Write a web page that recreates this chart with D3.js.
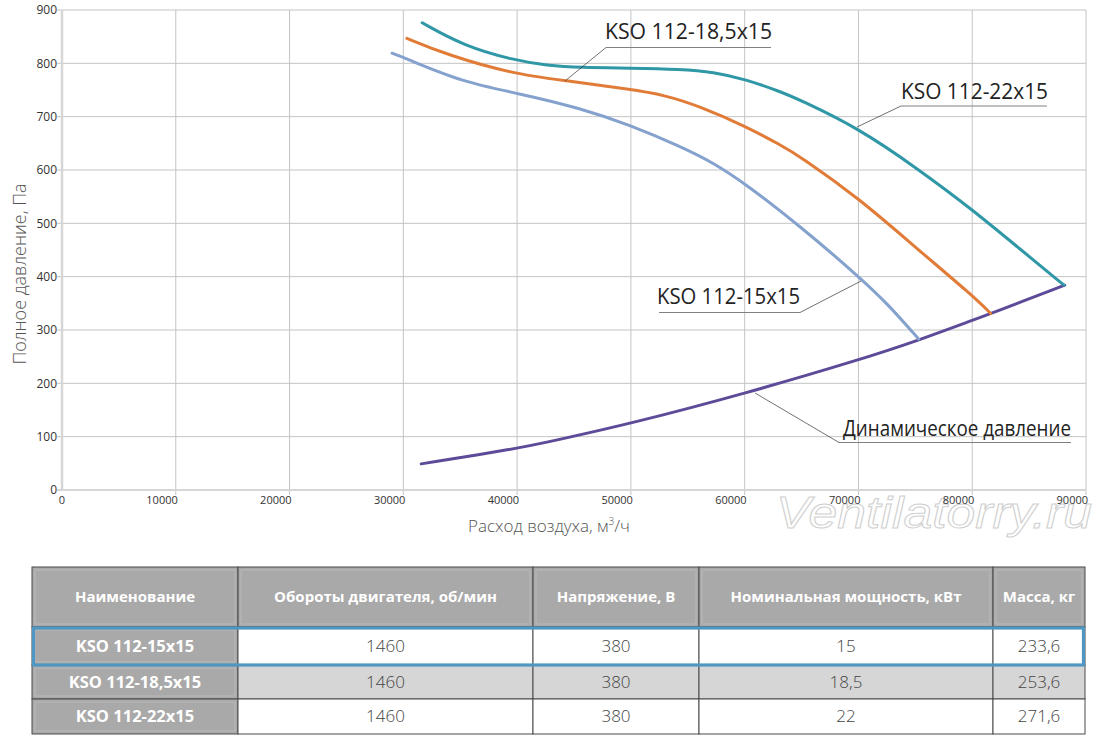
<!DOCTYPE html>
<html>
<head>
<meta charset="utf-8">
<script src="https://cdn.jsdelivr.net/npm/d3@7"></script>
<style>
  body { margin: 0; background: #fff; }
  svg { display: block; }
</style>
</head>
<body>
<svg id="chart" width="1100" height="741"></svg>
<script>
// curves: air flow (m3/h) and total pressure (Pa)
const flow22  = [31660, 35270, 39700, 42630, 45560, 49960, 54350, 57260, 60070, 63150, 64910, 70040, 75170, 80060, 83960, 88070];
const press22 = [876, 833, 806, 796, 792, 791, 789, 784, 770, 747, 731, 678, 603, 525, 456, 384];

const flow185  = [30310, 33830, 39690, 44090, 49960, 52890, 56110, 60070, 63150, 64910, 70040, 75170, 80060, 81620];
const press185 = [847, 816, 780, 768, 751, 741, 719, 682, 647, 625, 547, 452, 364, 331];

const flow15  = [29000, 30020, 35300, 40080, 45560, 49960, 54350, 57290, 60070, 64910, 70040, 72530, 75290];
const press15 = [819, 811, 764, 744, 716, 684, 644, 613, 574, 494, 400, 350, 283];

const flowDyn  = [31570, 40060, 42920, 50080, 60040, 70080, 75320, 80110, 81650, 88130];
const pressDyn = [49, 78, 91, 125, 181, 244, 281, 319, 331, 384];

const xTicks = [0, 10000, 20000, 30000, 40000, 50000, 60000, 70000, 80000, 90000];
const yTicks = [0, 100, 200, 300, 400, 500, 600, 700, 800, 900];

const headers = ["Наименование", "Обороты двигателя, об/мин", "Напряжение, В", "Номинальная мощность, кВт", "Масса, кг"];
const models  = ["KSO 112-15x15", "KSO 112-18,5x15", "KSO 112-22x15"];
const rpm     = ["1460", "1460", "1460"];
const volts   = ["380", "380", "380"];
const power   = ["15", "18,5", "22"];
const mass    = ["233,6", "253,6", "271,6"];

const svg = d3.select("#chart");
const x = d3.scaleLinear().domain([0, 90000]).range([62, 1086]);
const y = d3.scaleLinear().domain([0, 900]).range([490, 10]);

// grid
svg.append("g").selectAll("line").data(xTicks.slice(1)).join("line")
  .attr("x1", d => x(d)).attr("x2", d => x(d))
  .attr("y1", y(900)).attr("y2", y(0) + 5)
  .attr("stroke", "#c4c4c4").attr("stroke-width", 1);
svg.append("g").selectAll("line").data(yTicks.slice(1)).join("line")
  .attr("x1", x(0) - 5).attr("x2", x(90000))
  .attr("y1", d => y(d)).attr("y2", d => y(d))
  .attr("stroke", "#c4c4c4").attr("stroke-width", 1);

// axes lines
svg.append("line").attr("x1", x(0)).attr("x2", x(0)).attr("y1", y(900)).attr("y2", y(0))
  .attr("stroke", "#d6d6d6").attr("stroke-width", 2.5);
svg.append("line").attr("x1", x(0) - 5).attr("x2", x(90000)).attr("y1", y(0)).attr("y2", y(0))
  .attr("stroke", "#d6d6d6").attr("stroke-width", 2);

// watermark (sits under the tick labels, as in the original)
svg.append("text").attr("x", 776).attr("y", 528)
  .attr("textLength", 316).attr("lengthAdjust", "spacingAndGlyphs")
  .style("font", "italic 44px 'Liberation Sans'")
  .attr("fill", "#fff").attr("fill-opacity", 0.5)
  .attr("stroke", "#cfcfcf").attr("stroke-width", 1)
  .text("Ventilatorry.ru");

// tick labels
svg.append("g").selectAll("text").data(yTicks).join("text")
  .attr("x", 57).attr("y", d => y(d)).attr("dy", "0.35em")
  .attr("text-anchor", "end")
  .style("font", "12px 'Open Sans'").attr("fill", "#333")
  .text(d => d);
svg.append("g").selectAll("text").data(xTicks).join("text")
  .attr("x", d => d === 0 ? x(d) + 3 : x(d) + 2).attr("y", 500).attr("dy", "0.35em")
  .attr("text-anchor", "end")
  .style("font", "11px 'Open Sans'").attr("fill", "#333")
  .text(d => d);

// axis titles
const xt = svg.append("text").attr("x", 549).attr("y", 532).attr("text-anchor", "middle")
  .style("font", "300 17px 'Open Sans'").attr("fill", "#555");
xt.append("tspan").text("Расход воздуха, м");
xt.append("tspan").attr("dy", -7).style("font-size", "10px").text("3");
xt.append("tspan").attr("dy", 7).text("/ч");
svg.append("text").attr("transform", "translate(26,274) rotate(-90)")
  .attr("text-anchor", "middle")
  .style("font", "300 18px 'Open Sans'").attr("fill", "#555")
  .text("Полное давление, Па");

// curves
const line = d3.line().x(d => x(d[0])).y(d => y(d[1])).curve(d3.curveBasis);
const series = [
  [d3.zip(flowDyn, pressDyn), "#5d4b99"],
  [d3.zip(flow15, press15), "#84a2cd"],
  [d3.zip(flow185, press185), "#e17c38"],
  [d3.zip(flow22, press22), "#2f97a6"]
];
series.forEach(([pts, color]) => {
  svg.append("path").datum(pts).attr("d", line)
    .attr("fill", "none").attr("stroke", color).attr("stroke-width", 3)
    .attr("stroke-linecap", "round");
});

// labels with leader lines (lx = where the leader leaves the underline)
const labels = [
  { text: "KSO 112-18,5x15", tx: 605, ty: 39, w: 167, ux1: 606, ux2: 771, uy: 47.5, lx: 606, px: 565, py: 81 },
  { text: "KSO 112-22x15", tx: 901, ty: 99, w: 147, ux1: 901, ux2: 1047, uy: 106, lx: 901, px: 857, py: 127 },
  { text: "KSO 112-15x15", tx: 657, ty: 304, w: 143, ux1: 659, ux2: 800, uy: 312.5, lx: 800, px: 861, py: 281 },
  { text: "Динамическое давление", tx: 843, ty: 436, w: 228, ux1: 839, ux2: 1071, uy: 442.5, lx: 839, px: 755, py: 393 }
];
labels.forEach(l => {
  svg.append("line").attr("x1", l.ux1).attr("x2", l.ux2).attr("y1", l.uy).attr("y2", l.uy)
    .attr("stroke", "#808080").attr("stroke-width", 1);
  svg.append("line").attr("x1", l.lx).attr("y1", l.uy).attr("x2", l.px).attr("y2", l.py)
    .attr("stroke", "#333").attr("stroke-width", 0.7);
  svg.append("text").attr("x", l.tx).attr("y", l.ty)
    .attr("textLength", l.w).attr("lengthAdjust", "spacingAndGlyphs")
    .style("font", "21px 'Open Sans'").attr("fill", "#222")
    .text(l.text);
});

// table
const colX = [32, 238, 533, 699, 993, 1085];
const rowY = [567, 627, 665, 699, 734];
const rows = d3.range(models.length).map(i => [models[i], rpm[i], volts[i], power[i], mass[i]]);
const tbl = svg.append("g");

const cellData = [];
headers.forEach((h, c) => cellData.push({ r: 0, c, text: h }));
rows.forEach((row, r) => row.forEach((v, c) => cellData.push({ r: r + 1, c, text: v })));

const isHead = d => d.r === 0 || d.c === 0;
const cells = tbl.selectAll("g.cell").data(cellData).join("g").attr("class", "cell");
cells.append("rect")
  .attr("x", d => colX[d.c]).attr("y", d => rowY[d.r])
  .attr("width", d => colX[d.c + 1] - colX[d.c]).attr("height", d => rowY[d.r + 1] - rowY[d.r])
  .attr("fill", d => isHead(d) ? "#a9a9a9" : (d.r === 2 ? "#d6d6d6" : "#fff"))
  .attr("stroke", "#4a4a4a").attr("stroke-width", 1);
cells.filter(isHead).append("rect")
  .attr("x", d => colX[d.c] + 3).attr("y", d => rowY[d.r] + 3)
  .attr("width", d => colX[d.c + 1] - colX[d.c] - 6).attr("height", d => rowY[d.r + 1] - rowY[d.r] - 6)
  .attr("fill", "none").attr("stroke", "#b9b9b9").attr("stroke-width", 1);
cells.append("text")
  .attr("x", d => (colX[d.c] + colX[d.c + 1]) / 2)
  .attr("y", d => (rowY[d.r] + rowY[d.r + 1]) / 2).attr("dy", "0.35em")
  .attr("text-anchor", "middle")
  .style("font", d => d.r === 0 ? "bold 15px 'Open Sans'"
                    : d.c === 0 ? "bold 16.5px 'Open Sans'" : "300 17px 'Open Sans'")
  .attr("fill", d => isHead(d) ? "#fff" : "#444")
  .text(d => d.text);

// highlight first model row
tbl.append("rect").attr("x", 33.5).attr("y", rowY[1] + 1)
  .attr("width", 1083.5 - 33.5).attr("height", rowY[2] - rowY[1] - 1)
  .attr("fill", "none").attr("stroke", "#4f97c2").attr("stroke-width", 3.2);
</script>
</body>
</html>
